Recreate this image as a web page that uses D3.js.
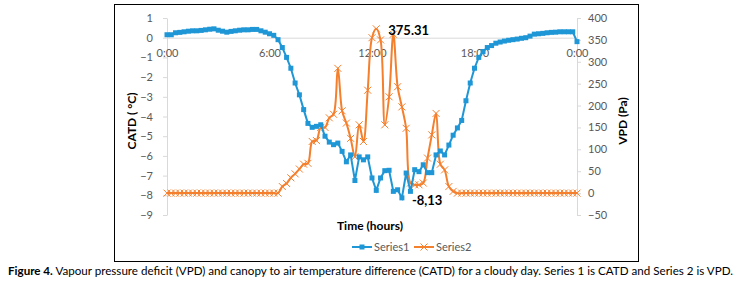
<!DOCTYPE html>
<html>
<head>
<meta charset="utf-8">
<script src="https://cdn.jsdelivr.net/npm/d3@7"></script>
<style>
  body { margin: 0; background: #fff; }
  svg text { font-family: Lato, "Open Sans", sans-serif; }
</style>
</head>
<body>
<svg id="chart" width="741" height="288"></svg>
<script>
// 15-minute readings, 0:00 to 0:00 (97 points)
const catd = [
  0.15, 0.15, 0.25, 0.27, 0.3, 0.33, 0.35, 0.35, 0.37, 0.4, 0.43, 0.45, 0.38, 0.33, 0.28, 0.32,
  0.35, 0.38, 0.4, 0.4, 0.42, 0.42, 0.35, 0.28, 0.2, 0.12, -0.1, -0.5, -1.0, -1.55, -2.3, -2.9,
  -3.65, -4.35, -4.55, -4.5, -4.42, -5.0, -5.3, -5.43, -5.35, -5.77, -6.3, -5.95, -7.25, -6.05, -6.2, -6.05,
  -7.12, -7.75, -7.12, -6.75, -6.73, -7.8, -7.72, -8.13, -6.87, -7.8, -6.7, -6.8, -6.45, -6.85, -6.85, -5.95,
  -5.75, -5.95, -5.45, -4.95, -4.58, -4.2, -3.2, -2.3, -1.55, -1.0, -0.7, -0.5, -0.4, -0.28, -0.22, -0.17,
  -0.13, -0.1, -0.07, -0.03, 0.0, 0.08, 0.18, 0.2, 0.22, 0.25, 0.27, 0.28, 0.3, 0.3, 0.3, 0.3,
  -0.2
];
const vpd = [
  0, 0, 0, 0, 0, 0, 0, 0, 0, 0, 0, 0, 0, 0, 0, 0,
  0, 0, 0, 0, 0, 0, 0, 0, 0, 0, 0, 15, 22, 35, 44, 55,
  66, 68, 118, 120, 150, 150, 172, 180, 285, 188, 160, 125, 83, 156, 118, 235,
  355, 375.31, 350, 156, 220, 363, 243, 197, 148, 23, 19, 19, 23, 80, 133, 182,
  66, 53, 15, 4, 0, 0, 0, 0, 0, 0, 0, 0, 0, 0, 0, 0,
  0, 0, 0, 0, 0, 0, 0, 0, 0, 0, 0, 0, 0, 0, 0, 0,
  0
];
const timeLabels = ["0:00", "6:00", "12:00", "18:00", "0:00"];
const catdTicks = [1, 0, -1, -2, -3, -4, -5, -6, -7, -8, -9];
const vpdTicks = [400, 350, 300, 250, 200, 150, 100, 50, 0, -50];
const seriesNames = ["Series1", "Series2"];

const blue = "#1f96d6";
const orange = "#f47f2c";
const axisGrey = "#d9d9d9";
const textGrey = "#595959";

const svg = d3.select("#chart");

// chart frame
svg.append("rect")
    .attr("x", 114.5).attr("y", 4.5)
    .attr("width", 524).attr("height", 257)
    .attr("fill", "#fff").attr("stroke", "#000").attr("stroke-width", 1);

const x = d3.scaleLinear().domain([0, catd.length - 1]).range([167, 577]);
const yL = d3.scaleLinear().domain([-9, 1]).range([215, 18]);
const yR = d3.scaleLinear().domain([-50, 400]).range([215, 18]);

// Axes
function styleAxis(g) {
    g.select(".domain").attr("stroke", axisGrey);
    g.selectAll(".tick line").attr("stroke", axisGrey);
    g.selectAll("text").style("font-size", "11px").attr("fill", textGrey);
}

svg.append("g")
    .attr("transform", `translate(${x.range()[0]},0)`)
    .call(d3.axisLeft(yL).tickValues(catdTicks).tickSize(4).tickPadding(10).tickSizeOuter(0))
    .call(styleAxis);

svg.append("g")
    .attr("transform", `translate(${x.range()[1]},0)`)
    .call(d3.axisRight(yR).tickValues(vpdTicks).tickSize(4).tickPadding(7).tickSizeOuter(0))
    .call(styleAxis);

svg.append("g")
    .attr("transform", `translate(0,${yL(0)})`)
    .call(d3.axisBottom(x).tickValues(timeLabels.map((d, i) => i * 24))
        .tickFormat((d, i) => timeLabels[i]).tickSize(0).tickPadding(12))
    .call(styleAxis);

// Axis titles
svg.append("text")
    .attr("transform", `translate(136,121) rotate(-90)`)
    .attr("text-anchor", "middle")
    .style("font-size", "12px").style("font-weight", "700")
    .text("CATD ( °C)");

svg.append("text")
    .attr("transform", `translate(627,121) rotate(-90)`)
    .attr("text-anchor", "middle")
    .style("font-size", "12px").style("font-weight", "700")
    .text("VPD (Pa)");

svg.append("text")
    .attr("x", 370).attr("y", 230)
    .attr("text-anchor", "middle")
    .style("font-size", "12px").style("font-weight", "700")
    .text("Time (hours)");

// Series 2 (VPD), smoothed line with X markers
const xMark = "M-3.5,-3.5L3.5,3.5M-3.5,3.5L3.5,-3.5";

svg.append("path")
    .datum(vpd)
    .attr("fill", "none")
    .attr("stroke", orange)
    .attr("stroke-width", 2)
    .attr("d", d3.line().x((d, i) => x(i)).y(d => yR(d)).curve(d3.curveCatmullRom.alpha(0.5)));

svg.append("g").selectAll("path")
    .data(vpd)
    .join("path")
    .attr("transform", (d, i) => `translate(${x(i)},${yR(d)})`)
    .attr("d", xMark)
    .attr("stroke", orange)
    .attr("stroke-width", 1)
    .attr("fill", "none");

// Series 1 (CATD), line with square markers
svg.append("path")
    .datum(catd)
    .attr("fill", "none")
    .attr("stroke", blue)
    .attr("stroke-width", 2)
    .attr("d", d3.line().x((d, i) => x(i)).y(d => yL(d)));

svg.append("g").selectAll("rect")
    .data(catd)
    .join("rect")
    .attr("x", (d, i) => x(i) - 2.5)
    .attr("y", d => yL(d) - 2.5)
    .attr("width", 5).attr("height", 5)
    .attr("fill", blue);

// data labels for max VPD and min CATD
const iMax = d3.maxIndex(vpd);
svg.append("text")
    .attr("x", x(iMax) + 12).attr("y", yR(vpd[iMax]) + 6)
    .style("font-size", "13px").style("font-weight", "700")
    .text(d3.format(".2f")(vpd[iMax]));

const iMin = d3.minIndex(catd);
svg.append("text")
    .attr("x", x(iMin) + 10).attr("y", yL(catd[iMin]) + 7)
    .style("font-size", "13px").style("font-weight", "700")
    .text(String(catd[iMin]).replace(".", ","));

// Legend
const legend = svg.append("g").attr("transform", "translate(352,247)");
const items = legend.selectAll("g")
    .data(seriesNames)
    .join("g")
    .attr("transform", (d, i) => `translate(${i * 62},0)`);

items.append("line")
    .attr("x1", 0).attr("x2", 20)
    .attr("stroke", (d, i) => i === 0 ? blue : orange)
    .attr("stroke-width", 2);

items.filter((d, i) => i === 0).append("rect")
    .attr("x", 7.5).attr("y", -2.5).attr("width", 5).attr("height", 5)
    .attr("fill", blue);

items.filter((d, i) => i === 1).append("path")
    .attr("transform", "translate(10,0)")
    .attr("d", xMark)
    .attr("stroke", orange).attr("fill", "none");

items.append("text")
    .attr("x", 22).attr("dy", "0.35em")
    .style("font-size", "11px")
    .attr("fill", textGrey)
    .text(d => d);

// Caption
const caption = svg.append("text")
    .attr("x", 8).attr("y", 275)
    .attr("textLength", 725)
    .attr("lengthAdjust", "spacingAndGlyphs")
    .style("font-size", "11.5px");
caption.append("tspan").style("font-weight", "700").text("Figure 4.");
caption.append("tspan").text(" Vapour pressure deficit (VPD) and canopy to air temperature difference (CATD) for a cloudy day. Series 1 is CATD and Series 2 is VPD.");
</script>
</body>
</html>
